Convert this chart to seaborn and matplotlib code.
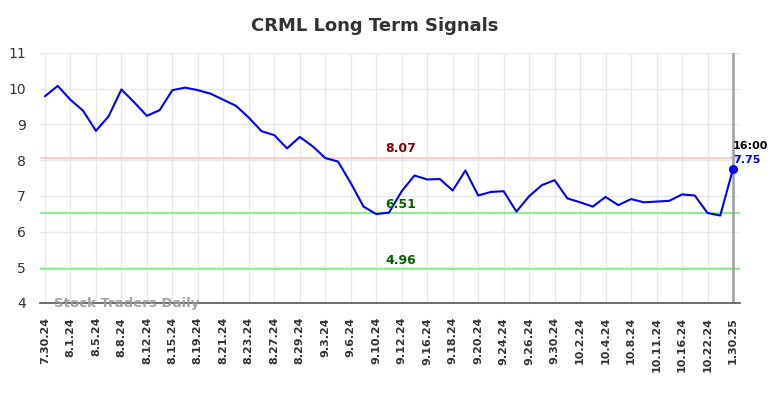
import numpy as np
import pandas as pd
import matplotlib
matplotlib.use("Agg")
import matplotlib.pyplot as plt
import seaborn as sns

ticker = "CRML"
tick_labels = ["7.30.24", "8.1.24", "8.5.24", "8.8.24", "8.12.24", "8.15.24", "8.19.24",
               "8.21.24", "8.23.24", "8.27.24", "8.29.24", "9.3.24", "9.6.24", "9.10.24",
               "9.12.24", "9.16.24", "9.18.24", "9.20.24", "9.24.24", "9.26.24", "9.30.24",
               "10.2.24", "10.4.24", "10.8.24", "10.11.24", "10.16.24", "10.22.24", "1.30.25"]
prices = [9.79, 10.08, 9.69, 9.38, 8.82, 9.23, 9.98, 9.62, 9.24, 9.40,
          9.96, 10.03, 9.96, 9.86, 9.69, 9.52, 9.19, 8.81, 8.70, 8.33,
          8.65, 8.39, 8.06, 7.96, 7.36, 6.70, 6.49, 6.53, 7.13, 7.57,
          7.46, 7.47, 7.15, 7.71, 7.01, 7.11, 7.13, 6.56, 6.99, 7.30,
          7.44, 6.93, 6.82, 6.70, 6.97, 6.74, 6.91, 6.82, 6.84, 6.86,
          7.04, 7.01, 6.52, 6.45, 7.75]
resistance = 8.07
support_levels = [6.51, 4.96]
last_time = "16:00"

sns.set_theme(style="whitegrid")
plt.rcParams['font.family'] = ['DejaVu Sans']

df = pd.DataFrame({"idx": np.arange(len(prices)), "price": prices})

fig = plt.figure(figsize=(7.84, 3.98), dpi=100)
ax = fig.add_axes([40/784, 1-303/398, 700/784, 250/398])

ax.axhline(resistance, color="#ffcccc", lw=1.5, zorder=1)
for s in support_levels:
    ax.axhline(s, color="#90ee90", lw=1.5, zorder=1)

sns.lineplot(data=df, x="idx", y="price", color="blue", lw=1.5, ax=ax, zorder=3)
last_i = len(prices) - 1
ax.axvline(last_i, color="#a0a0a0", lw=1.8, zorder=2)
ax.scatter([last_i], [prices[-1]], color="blue", s=30, zorder=4)

ax.set_xlim(-0.39, last_i + 0.55)
ax.set_ylim(4, 11)
ax.set_yticks(range(4, 12))
ax.set_xticks(np.arange(0, len(prices), 2))
ax.set_xticklabels(tick_labels, rotation=90, fontweight="bold", fontsize=8)
ax.tick_params(axis="y", labelsize=10, pad=4, colors="#333333")
ax.tick_params(axis="x", pad=4, colors="#333333")
ax.set_xlabel("")
ax.set_ylabel("")
ax.grid(True, color="#e8e8e8", lw=1)
for sp in ["left", "right", "top"]:
    ax.spines[sp].set_visible(False)
ax.spines["bottom"].set_color("#555555")
ax.spines["bottom"].set_linewidth(1.2)

mid = 27.9
ax.text(mid, resistance + 0.06, f"{resistance:.2f}", color="darkred", fontweight="bold",
        fontsize=9, ha="center", va="bottom")
for s in support_levels:
    ax.text(mid, s + 0.06, f"{s:.2f}", color="darkgreen", fontweight="bold",
            fontsize=9, ha="center", va="bottom")

ax.text(last_i, prices[-1] + 0.12, f"{prices[-1]:.2f}", color="blue", fontweight="bold",
        fontsize=8, ha="left", va="bottom")
ax.text(last_i, prices[-1] + 0.5, last_time, color="black", fontweight="bold",
        fontsize=8, ha="left", va="bottom")

ax.text(0.7, 4.0, "Stock Traders Daily", color="#999999", fontweight="bold",
        fontsize=9.5, ha="left", va="center", alpha=0.9)

fig.text(375/784, 1-26/398, f"{ticker} Long Term Signals", ha="center", va="center",
         fontsize=13, fontweight="bold", color="#333333")

fig.savefig("out.png", dpi=100)
